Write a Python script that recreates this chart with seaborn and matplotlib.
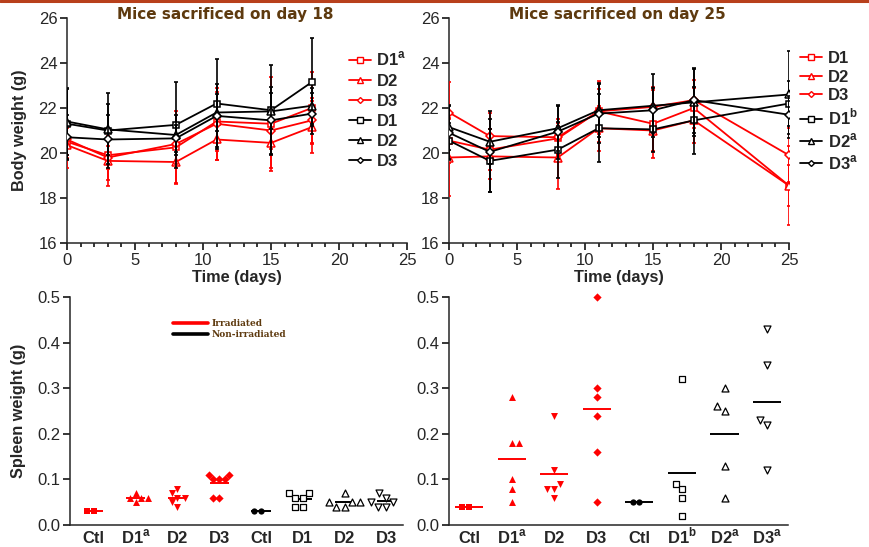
import numpy as np
import pandas as pd
import matplotlib
matplotlib.use("Agg")
import matplotlib.pyplot as plt
from matplotlib.lines import Line2D
from matplotlib.ticker import MultipleLocator, FormatStrFormatter
import seaborn as sns

# ---------------- data ----------------
days18 = [0, 3, 8, 11, 15, 18]
days25 = [0, 3, 8, 11, 15, 18, 25]

# Mice sacrificed on day 18 - irradiated (red)
bw18_irr_D1 = [20.5, 19.9, 20.25, 21.4, 21.3, 22.0]
bw18_irr_D1_sd = [0.6, 1.1, 1.6, 1.3, 2.1, 1.6]
bw18_irr_D2 = [20.35, 19.65, 19.6, 20.6, 20.45, 21.15]
bw18_irr_D2_sd = [1.0, 1.1, 1.0, 0.9, 1.1, 1.15]
bw18_irr_D3 = [20.6, 19.8, 20.4, 21.3, 21.0, 21.45]
bw18_irr_D3_sd = [0.8, 0.5, 0.9, 1.6, 0.8, 1.0]
# day 18 - non-irradiated (black)
bw18_non_D1 = [21.3, 21.0, 21.25, 22.2, 21.9, 23.15]
bw18_non_D1_sd = [1.55, 1.65, 1.9, 2.0, 2.0, 1.95]
bw18_non_D2 = [21.4, 21.05, 20.8, 21.8, 21.85, 22.1]
bw18_non_D2_sd = [1.5, 1.15, 0.9, 0.8, 0.8, 0.8]
bw18_non_D3 = [20.7, 20.6, 20.65, 21.65, 21.45, 21.75]
bw18_non_D3_sd = [1.0, 1.1, 0.6, 1.4, 1.5, 0.9]

# Mice sacrificed on day 25 - irradiated (red)
bw25_irr_D1 = [20.55, 20.15, 20.65, 21.85, 21.3, 22.0, 18.55]
bw25_irr_D1_sd = [1.0, 0.9, 0.7, 1.0, 1.5, 0.9, 1.75]
bw25_irr_D2 = [19.8, 19.85, 19.8, 21.1, 21.0, 21.45, 18.55]
bw25_irr_D2_sd = [1.7, 1.0, 1.4, 1.0, 0.9, 1.0, 0.9]
bw25_irr_D3 = [21.8, 20.75, 20.7, 21.85, 22.05, 22.35, 19.9]
bw25_irr_D3_sd = [1.35, 1.05, 0.8, 1.35, 0.9, 0.9, 1.2]
# day 25 - non-irradiated (black)
bw25_non_D1 = [20.55, 19.65, 20.15, 21.1, 21.05, 21.45, 22.2]
bw25_non_D1_sd = [0.8, 1.4, 1.25, 1.5, 1.0, 1.5, 1.0]
bw25_non_D2 = [21.15, 20.5, 21.1, 21.9, 22.1, 22.25, 22.6]
bw25_non_D2_sd = [1.0, 1.0, 1.0, 1.2, 1.4, 1.5, 1.95]
bw25_non_D3 = [20.9, 20.05, 20.95, 21.75, 21.9, 22.35, 21.7]
bw25_non_D3_sd = [1.2, 1.8, 1.2, 1.3, 1.0, 1.45, 0.85]

# Spleen weights (g)
spl_cats18 = ["Ctl", "D1$^{\\mathbf{a}}$", "D2", "D3", "Ctl", "D1", "D2", "D3"]
spl18_irr_ctl = [0.03, 0.03]
spl18_irr_D1 = [0.07, 0.06, 0.06, 0.06, 0.05]
spl18_irr_D2 = [0.08, 0.07, 0.06, 0.06, 0.05, 0.04]
spl18_irr_D3 = [0.11, 0.11, 0.10, 0.10, 0.10, 0.06, 0.06]
spl18_non_ctl = [0.03, 0.03]
spl18_non_D1 = [0.07, 0.07, 0.06, 0.06, 0.04, 0.04]
spl18_non_D2 = [0.07, 0.05, 0.05, 0.05, 0.04, 0.04]
spl18_non_D3 = [0.07, 0.06, 0.05, 0.05, 0.04, 0.04]

spl_cats25 = ["Ctl", "D1$^{\\mathbf{a}}$", "D2", "D3", "Ctl",
              "D1$^{\\mathbf{b}}$", "D2$^{\\mathbf{a}}$", "D3$^{\\mathbf{a}}$"]
spl25_irr_ctl = [0.04, 0.04]
spl25_irr_D1 = [0.28, 0.18, 0.18, 0.10, 0.08, 0.05]
spl25_irr_D2 = [0.24, 0.12, 0.09, 0.08, 0.08, 0.06]
spl25_irr_D3 = [0.50, 0.30, 0.28, 0.24, 0.16, 0.05]
spl25_non_ctl = [0.05, 0.05]
spl25_non_D1 = [0.32, 0.09, 0.08, 0.06, 0.02]
spl25_non_D2 = [0.30, 0.26, 0.25, 0.13, 0.06]
spl25_non_D3 = [0.43, 0.35, 0.23, 0.22, 0.12]

leg18 = ["D1$^{\\mathbf{a}}$", "D2", "D3", "D1", "D2", "D3"]
leg25 = ["D1", "D2", "D3", "D1$^{\\mathbf{b}}$", "D2$^{\\mathbf{a}}$", "D3$^{\\mathbf{a}}$"]

# ---------------- style ----------------
sns.set_theme(style="ticks")
plt.rcParams["font.family"] = ["Liberation Sans", "DejaVu Sans"]
plt.rcParams["mathtext.fontset"] = "custom"
plt.rcParams["mathtext.rm"] = "Liberation Sans"
plt.rcParams["mathtext.bf"] = "Liberation Sans:bold"
plt.rcParams["axes.linewidth"] = 1.1

RED = "#ff0000"
BLK = "#000000"
BROWN = "#5e3a0f"

W, H = 869, 547
fig = plt.figure(figsize=(W / 100, H / 100), dpi=100)


def fx(x):
    return x / W


def fy(y):
    return 1 - y / H


def add_ax(x0, y0, x1, y1):
    return fig.add_axes([fx(x0), fy(y1), fx(x1) - fx(x0), fy(y0) - fy(y1)])


ax1 = add_ax(67, 18, 407, 243)
ax2 = add_ax(449, 18, 789, 243)
ax3 = add_ax(70, 297, 403, 525)
ax4 = add_ax(449, 297, 788, 525)

markers = ["s", "^", "D"]
msizes = [5, 5.5, 4]


def body_panel(ax, days, series, legend_labels, leg_anchor, spacing):
    handles = []
    for i, (vals, sds, color) in enumerate(series):
        m = markers[i % 3]
        ms = msizes[i % 3]
        ax.errorbar(days, vals, yerr=sds, fmt="none", ecolor=color,
                    elinewidth=1.2, capsize=1.6, capthick=1.2, zorder=2 + i)
        sns.lineplot(x=days, y=vals, ax=ax, color=color, marker=m,
                     markersize=ms, markerfacecolor="white",
                     markeredgecolor=color, markeredgewidth=1.1,
                     linewidth=1.3, zorder=2.5 + i, legend=False)
        handles.append(Line2D([], [], color=color, marker=m, markersize=ms - 1,
                              markerfacecolor="white", markeredgecolor=color,
                              markeredgewidth=1.0, linewidth=1.3))
    ax.set_xlim(0, 25)
    ax.set_ylim(16, 26)
    ax.xaxis.set_major_locator(MultipleLocator(5))
    ax.xaxis.set_minor_locator(MultipleLocator(1))
    ax.yaxis.set_major_locator(MultipleLocator(2))
    ax.tick_params(axis="both", which="major", length=5, width=1.1,
                   labelsize=12, pad=2, direction="out", color="black")
    ax.tick_params(axis="x", which="minor", length=3, width=1.1, color="black")
    ax.set_xlabel("Time (days)", fontsize=11.7, fontweight="bold", labelpad=1.5)
    sns.despine(ax=ax)
    leg = fig.legend(handles, legend_labels, loc="upper left",
                     bbox_to_anchor=(fx(leg_anchor[0]), fy(leg_anchor[1])),
                     bbox_transform=fig.transFigure, frameon=False,
                     handlelength=1.3, handletextpad=0.35, labelspacing=spacing,
                     borderpad=0, borderaxespad=0,
                     prop={"weight": "bold", "size": 12})
    return leg


body_panel(ax1, days18,
           [(bw18_irr_D1, bw18_irr_D1_sd, RED), (bw18_irr_D2, bw18_irr_D2_sd, RED),
            (bw18_irr_D3, bw18_irr_D3_sd, RED), (bw18_non_D1, bw18_non_D1_sd, BLK),
            (bw18_non_D2, bw18_non_D2_sd, BLK), (bw18_non_D3, bw18_non_D3_sd, BLK)],
           leg18, (349, 50), 0.3)
body_panel(ax2, days25,
           [(bw25_irr_D1, bw25_irr_D1_sd, RED), (bw25_irr_D2, bw25_irr_D2_sd, RED),
            (bw25_irr_D3, bw25_irr_D3_sd, RED), (bw25_non_D1, bw25_non_D1_sd, BLK),
            (bw25_non_D2, bw25_non_D2_sd, BLK), (bw25_non_D3, bw25_non_D3_sd, BLK)],
           leg25, (800, 51), 0.22)
ax1.set_ylabel("Body weight (g)", fontsize=11.7, fontweight="bold", labelpad=8)
ax2.set_ylabel("")

fig.text(fx(225), fy(14), "Mice sacrificed on day 18", ha="center", va="center",
         color=BROWN, fontsize=11, fontweight="bold", family="DejaVu Sans")
fig.text(fx(617), fy(14), "Mice sacrificed on day 25", ha="center", va="center",
         color=BROWN, fontsize=11, fontweight="bold", family="DejaVu Sans")

# top decorative rule
fig.add_artist(Line2D([0, 1], [fy(1), fy(1)], transform=fig.transFigure,
                      color="#b8401c", linewidth=2.2))


def spleen_panel(ax, cats, groups, half):
    keys = ["c%d" % i for i in range(len(cats))]
    specs = [("s", RED, RED), ("^", RED, RED), ("v", RED, RED), ("D", RED, RED),
             ("o", BLK, BLK), ("s", "white", BLK), ("^", "white", BLK),
             ("v", "white", BLK)]
    sizes = [4.5, 5, 5, 4.2, 4.5, 4.5, 5, 5]
    for k, (vals, (m, fc, ec), sz) in enumerate(zip(groups, specs, sizes)):
        df = pd.DataFrame({"cat": [keys[k]] * len(vals), "val": vals})
        sns.swarmplot(data=df, x="cat", y="val", order=keys, ax=ax, marker=m,
                      color=fc, edgecolor=ec, linewidth=0.9 if fc == "white" else 0,
                      size=sz, zorder=3)
        ax.hlines(np.mean(vals), k - half, k + half, color=ec, linewidth=1.4, zorder=2)
    for coll in ax.collections:
        coll.set_clip_on(False)
    ax.set_ylim(0, 0.5)
    ax.yaxis.set_major_locator(MultipleLocator(0.1))
    ax.yaxis.set_major_formatter(FormatStrFormatter("%.1f"))
    ax.set_xticks(range(len(cats)))
    ax.set_xticklabels(cats, fontsize=12, fontweight="bold")
    for lbl in ax.get_xticklabels():
        lbl.set_verticalalignment("baseline")
    ax.tick_params(axis="x", length=0, pad=13)
    ax.tick_params(axis="y", length=5, width=1.1, labelsize=12, pad=2, color="black")
    ax.set_xlabel("")
    ax.set_ylabel("")
    sns.despine(ax=ax)


spleen_panel(ax3, spl_cats18,
             [spl18_irr_ctl, spl18_irr_D1, spl18_irr_D2, spl18_irr_D3,
              spl18_non_ctl, spl18_non_D1, spl18_non_D2, spl18_non_D3], 0.23)
ax3.set_xlim(-0.57, 7.4)
ax3.set_ylabel("Spleen weight (g)", fontsize=11.7, fontweight="bold", labelpad=8)

spleen_panel(ax4, spl_cats25,
             [spl25_irr_ctl, spl25_irr_D1, spl25_irr_D2, spl25_irr_D3,
              spl25_non_ctl, spl25_non_D1, spl25_non_D2, spl25_non_D3], 0.33)
ax4.set_xlim(-0.47, 7.49)

# irradiation legend
irr_handles = [Line2D([], [], color=RED, linewidth=2.6),
               Line2D([], [], color=BLK, linewidth=2.6)]
fig.legend(irr_handles, ["Irradiated", "Non-irradiated"], loc="upper left",
           bbox_to_anchor=(fx(173), fy(319)), bbox_transform=fig.transFigure,
           frameon=False, handlelength=3.9, handletextpad=0.4, labelspacing=0.2,
           borderpad=0, borderaxespad=0, labelcolor=BROWN,
           prop={"weight": "bold", "size": 6.5, "family": "DejaVu Serif"})

fig.savefig("out.png", dpi=100)
